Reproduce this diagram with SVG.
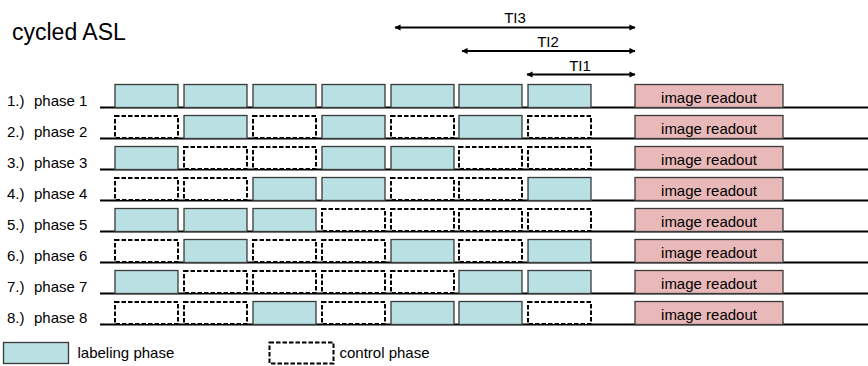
<svg xmlns="http://www.w3.org/2000/svg" width="868" height="366" viewBox="0 0 868 366">
<style>
text{font-family:"Liberation Sans",Arial,sans-serif;fill:#000}
.t{font-size:15px}
.c{text-anchor:middle}
.L{fill:#b9e0e2;stroke:#3a3a3a;stroke-width:1.3}
.C{fill:#fff;stroke:#000;stroke-width:2;stroke-dasharray:4.5 2}
.R{fill:#e8b9b8;stroke:#3a3a3a;stroke-width:1.3}
.base{stroke:#000;stroke-width:2.2}
.arr{stroke:#000;stroke-width:2.2;marker-start:url(#ah);marker-end:url(#ah)}
</style>
<defs>
<marker id="ah" viewBox="0 0 10 10" refX="9" refY="5" markerWidth="3.6" markerHeight="2.8" orient="auto-start-reverse" markerUnits="strokeWidth">
<path d="M0,0 L10,5 L0,10 z" fill="#000"/>
</marker>
<rect id="lb" class="L" width="63" height="23"/>
<rect id="cb" class="C" width="63" height="22"/>
</defs>
<text x="12" y="40" style="font-size:23px">cycled ASL</text>
<g id="connectors">
<line class="arr" x1="395" y1="27.5" x2="635" y2="27.5"/>
<line class="arr" x1="462" y1="51" x2="635" y2="51"/>
<line class="arr" x1="527" y1="74.5" x2="635" y2="74.5"/>
</g>
<g id="ti-labels">
<text class="t c" x="515" y="23.3">TI3</text>
<text class="t c" x="548" y="47.3">TI2</text>
<text class="t c" x="580" y="71">TI1</text>
</g>
<g id="row1">
<text class="t" x="7" y="105.5">1.)<tspan x="34">phase 1</tspan></text>
<line class="base" x1="100" y1="107.5" x2="868" y2="107.5"/>
<use href="#lb" x="115" y="84.5"/><use href="#lb" x="184" y="84.5"/><use href="#lb" x="253" y="84.5"/><use href="#lb" x="322" y="84.5"/><use href="#lb" x="391" y="84.5"/><use href="#lb" x="459" y="84.5"/><use href="#lb" x="528" y="84.5"/>
<rect class="R" x="635" y="84.5" width="148" height="23"/>
<text class="t c" x="709" y="103.3">image readout</text>
</g>
<g id="row2" transform="translate(0,31)">
<text class="t" x="7" y="105.5">2.)<tspan x="34">phase 2</tspan></text>
<line class="base" x1="100" y1="107.5" x2="868" y2="107.5"/>
<use href="#cb" x="115" y="85"/><use href="#lb" x="184" y="84.5"/><use href="#cb" x="253" y="85"/><use href="#lb" x="322" y="84.5"/><use href="#cb" x="391" y="85"/><use href="#lb" x="459" y="84.5"/><use href="#cb" x="528" y="85"/>
<rect class="R" x="635" y="84.5" width="148" height="23"/>
<text class="t c" x="709" y="103.3">image readout</text>
</g>
<g id="row3" transform="translate(0,62)">
<text class="t" x="7" y="105.5">3.)<tspan x="34">phase 3</tspan></text>
<line class="base" x1="100" y1="107.5" x2="868" y2="107.5"/>
<use href="#lb" x="115" y="84.5"/><use href="#cb" x="184" y="85"/><use href="#cb" x="253" y="85"/><use href="#lb" x="322" y="84.5"/><use href="#lb" x="391" y="84.5"/><use href="#cb" x="459" y="85"/><use href="#cb" x="528" y="85"/>
<rect class="R" x="635" y="84.5" width="148" height="23"/>
<text class="t c" x="709" y="103.3">image readout</text>
</g>
<g id="row4" transform="translate(0,93)">
<text class="t" x="7" y="105.5">4.)<tspan x="34">phase 4</tspan></text>
<line class="base" x1="100" y1="107.5" x2="868" y2="107.5"/>
<use href="#cb" x="115" y="85"/><use href="#cb" x="184" y="85"/><use href="#lb" x="253" y="84.5"/><use href="#lb" x="322" y="84.5"/><use href="#cb" x="391" y="85"/><use href="#cb" x="459" y="85"/><use href="#lb" x="528" y="84.5"/>
<rect class="R" x="635" y="84.5" width="148" height="23"/>
<text class="t c" x="709" y="103.3">image readout</text>
</g>
<g id="row5" transform="translate(0,124)">
<text class="t" x="7" y="105.5">5.)<tspan x="34">phase 5</tspan></text>
<line class="base" x1="100" y1="107.5" x2="868" y2="107.5"/>
<use href="#lb" x="115" y="84.5"/><use href="#lb" x="184" y="84.5"/><use href="#lb" x="253" y="84.5"/><use href="#cb" x="322" y="85"/><use href="#cb" x="391" y="85"/><use href="#cb" x="459" y="85"/><use href="#cb" x="528" y="85"/>
<rect class="R" x="635" y="84.5" width="148" height="23"/>
<text class="t c" x="709" y="103.3">image readout</text>
</g>
<g id="row6" transform="translate(0,155)">
<text class="t" x="7" y="105.5">6.)<tspan x="34">phase 6</tspan></text>
<line class="base" x1="100" y1="107.5" x2="868" y2="107.5"/>
<use href="#cb" x="115" y="85"/><use href="#lb" x="184" y="84.5"/><use href="#cb" x="253" y="85"/><use href="#cb" x="322" y="85"/><use href="#lb" x="391" y="84.5"/><use href="#cb" x="459" y="85"/><use href="#lb" x="528" y="84.5"/>
<rect class="R" x="635" y="84.5" width="148" height="23"/>
<text class="t c" x="709" y="103.3">image readout</text>
</g>
<g id="row7" transform="translate(0,186)">
<text class="t" x="7" y="105.5">7.)<tspan x="34">phase 7</tspan></text>
<line class="base" x1="100" y1="107.5" x2="868" y2="107.5"/>
<use href="#lb" x="115" y="84.5"/><use href="#cb" x="184" y="85"/><use href="#cb" x="253" y="85"/><use href="#cb" x="322" y="85"/><use href="#cb" x="391" y="85"/><use href="#lb" x="459" y="84.5"/><use href="#lb" x="528" y="84.5"/>
<rect class="R" x="635" y="84.5" width="148" height="23"/>
<text class="t c" x="709" y="103.3">image readout</text>
</g>
<g id="row8" transform="translate(0,217)">
<text class="t" x="7" y="105.5">8.)<tspan x="34">phase 8</tspan></text>
<line class="base" x1="100" y1="107.5" x2="868" y2="107.5"/>
<use href="#cb" x="115" y="85"/><use href="#cb" x="184" y="85"/><use href="#lb" x="253" y="84.5"/><use href="#cb" x="322" y="85"/><use href="#lb" x="391" y="84.5"/><use href="#lb" x="459" y="84.5"/><use href="#cb" x="528" y="85"/>
<rect class="R" x="635" y="84.5" width="148" height="23"/>
<text class="t c" x="709" y="103.3">image readout</text>
</g>
<g id="legend-labeling">
<rect class="L" x="3.5" y="342.5" width="65" height="21"/>
<text class="t" x="77.5" y="357.5">labeling phase</text>
</g>
<g id="legend-control">
<rect class="C" x="269.5" y="342.5" width="64" height="21"/>
<text class="t" x="339.5" y="357.5">control phase</text>
</g>
</svg>
